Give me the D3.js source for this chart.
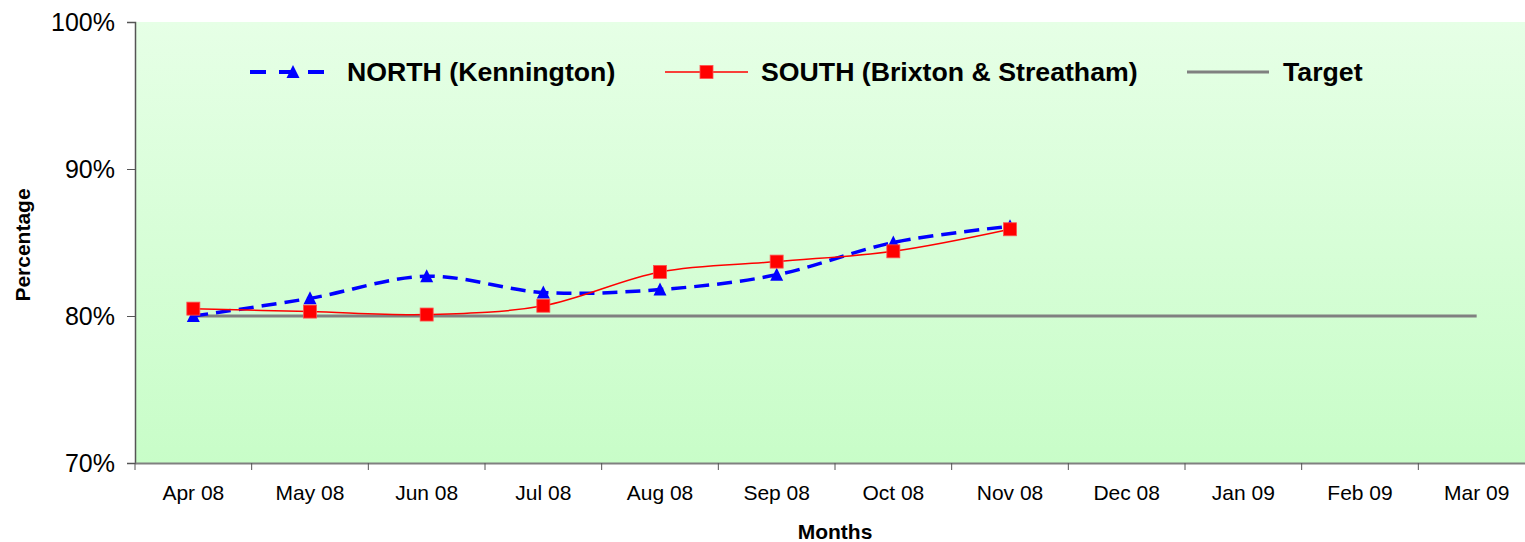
<!DOCTYPE html>
<html>
<head>
<meta charset="utf-8">
<script src="https://cdn.jsdelivr.net/npm/d3@7"></script>
<style>
  body { margin: 0; background: #fff; }
  svg { display: block; font-family: "Liberation Sans", Arial, sans-serif; }
</style>
</head>
<body>
<div id="chart"></div>
<script>
// chart values
const months = ['Apr 08', 'May 08', 'Jun 08', 'Jul 08', 'Aug 08', 'Sep 08',
                'Oct 08', 'Nov 08', 'Dec 08', 'Jan 09', 'Feb 09', 'Mar 09'];
const north = [0.800, 0.812, 0.827, 0.816, 0.818, 0.828, 0.850, 0.861];
const south = [0.805, 0.803, 0.801, 0.807, 0.830, 0.837, 0.844, 0.859];
const target = [0.80, 0.80, 0.80, 0.80, 0.80, 0.80, 0.80, 0.80, 0.80, 0.80, 0.80, 0.80];
const yTicks = [0.7, 0.8, 0.9, 1.0];

const width = 1525, height = 542;
const margin = { top: 22, right: -10, bottom: 79, left: 135 };

const svg = d3.select('#chart').append('svg')
    .attr('width', width)
    .attr('height', height);

const x = d3.scaleBand()
    .domain(months)
    .range([margin.left, width - margin.right])
    .padding(0);

const y = d3.scaleLinear()
    .domain([0.7, 1.0])
    .range([height - margin.bottom, margin.top]);

const cx = m => x(m) + x.bandwidth() / 2;

// background gradient
const grad = svg.append('defs').append('linearGradient')
    .attr('id', 'bg').attr('x1', 0).attr('y1', 0).attr('x2', 0).attr('y2', 1);
grad.append('stop').attr('offset', '0%').attr('stop-color', '#e6ffe6');
grad.append('stop').attr('offset', '100%').attr('stop-color', '#c8fdc8');

svg.append('rect')
    .attr('x', margin.left)
    .attr('y', margin.top)
    .attr('width', x.range()[1] - margin.left)
    .attr('height', y(0.7) - margin.top)
    .attr('fill', 'url(#bg)');

// y axis
const yAxis = svg.append('g')
    .attr('transform', `translate(${margin.left},0)`)
    .call(d3.axisLeft(y).tickValues(yTicks).tickFormat(d3.format('.0%'))
        .tickSize(8).tickPadding(12));
yAxis.select('.domain').attr('stroke', '#555').attr('stroke-width', 1.5);
yAxis.selectAll('.tick line').attr('stroke', '#555');
yAxis.selectAll('.tick text')
    .attr('font-size', 25)
    .attr('font-family', '"Liberation Sans", Arial, sans-serif')
    .attr('fill', '#000');

// x axis: labels centred in bands, ticks at band edges
const xAxis = svg.append('g')
    .attr('transform', `translate(0,${y(0.7)})`)
    .call(d3.axisBottom(x).tickSize(0).tickPadding(22));
xAxis.select('.domain').attr('stroke', '#808080').attr('stroke-width', 2);
xAxis.selectAll('.tick text')
    .attr('font-size', 21)
    .attr('font-family', '"Liberation Sans", Arial, sans-serif')
    .attr('fill', '#000');

const edges = months.map(m => x(m)).concat([x.range()[1]]);
svg.append('g').selectAll('line')
    .data(edges)
    .enter().append('line')
    .attr('x1', d => d).attr('x2', d => d)
    .attr('y1', y(0.7)).attr('y2', y(0.7) + 7)
    .attr('stroke', '#555').attr('stroke-width', 1);

// axis titles
svg.append('text')
    .attr('x', 835).attr('y', 539)
    .attr('text-anchor', 'middle')
    .attr('font-size', 21).attr('font-weight', 'bold')
    .text('Months');

svg.append('text')
    .attr('transform', 'translate(30,245) rotate(-90)')
    .attr('text-anchor', 'middle')
    .attr('font-size', 21).attr('font-weight', 'bold')
    .text('Percentage');

// series
const line = d3.line()
    .x((d, i) => cx(months[i]))
    .y(d => y(d))
    .curve(d3.curveCatmullRom.alpha(0));

svg.append('path')
    .datum(target)
    .attr('d', d3.line().x((d, i) => cx(months[i])).y(d => y(d)))
    .attr('fill', 'none')
    .attr('stroke', '#808080')
    .attr('stroke-width', 3);

svg.append('path')
    .datum(north)
    .attr('d', line)
    .attr('fill', 'none')
    .attr('stroke', '#0000ff')
    .attr('stroke-width', 3.5)
    .attr('stroke-dasharray', '15,8');

const tri = 'M0,-7L6.5,6L-6.5,6Z';
svg.append('g').selectAll('path')
    .data(north)
    .enter().append('path')
    .attr('transform', (d, i) => `translate(${cx(months[i])},${y(d)})`)
    .attr('d', tri)
    .attr('fill', '#0000ff');

svg.append('path')
    .datum(south)
    .attr('d', line)
    .attr('fill', 'none')
    .attr('stroke', '#ff0000')
    .attr('stroke-width', 1.5);

svg.append('g').selectAll('rect')
    .data(south)
    .enter().append('rect')
    .attr('x', (d, i) => cx(months[i]) - 6.5)
    .attr('y', d => y(d) - 6.5)
    .attr('width', 13).attr('height', 13)
    .attr('fill', '#ff0000')
    .attr('stroke', '#ff5050').attr('stroke-width', 0.8);

// legend
const legY = 72;
const leg = svg.append('g');

leg.append('line')
    .attr('x1', 250).attr('x2', 325).attr('y1', legY).attr('y2', legY)
    .attr('stroke', '#0000ff').attr('stroke-width', 4)
    .attr('stroke-dasharray', '16,13');
leg.append('path')
    .attr('transform', `translate(293,${legY})`)
    .attr('d', tri).attr('fill', '#0000ff');
leg.append('text')
    .attr('x', 347).attr('y', legY + 9)
    .attr('font-size', 26.7).attr('font-weight', 'bold')
    .text('NORTH (Kennington)');

leg.append('line')
    .attr('x1', 665).attr('x2', 748).attr('y1', legY).attr('y2', legY)
    .attr('stroke', '#ff0000').attr('stroke-width', 1.5);
leg.append('rect')
    .attr('x', 700).attr('y', legY - 6.5).attr('width', 13).attr('height', 13)
    .attr('fill', '#ff0000').attr('stroke', '#ff5050').attr('stroke-width', 0.8);
leg.append('text')
    .attr('x', 761).attr('y', legY + 9)
    .attr('font-size', 26.7).attr('font-weight', 'bold')
    .text('SOUTH (Brixton & Streatham)');

leg.append('line')
    .attr('x1', 1187).attr('x2', 1269).attr('y1', legY).attr('y2', legY)
    .attr('stroke', '#808080').attr('stroke-width', 3);
leg.append('text')
    .attr('x', 1283).attr('y', legY + 9)
    .attr('font-size', 26.7).attr('font-weight', 'bold')
    .text('Target');
</script>
</body>
</html>
